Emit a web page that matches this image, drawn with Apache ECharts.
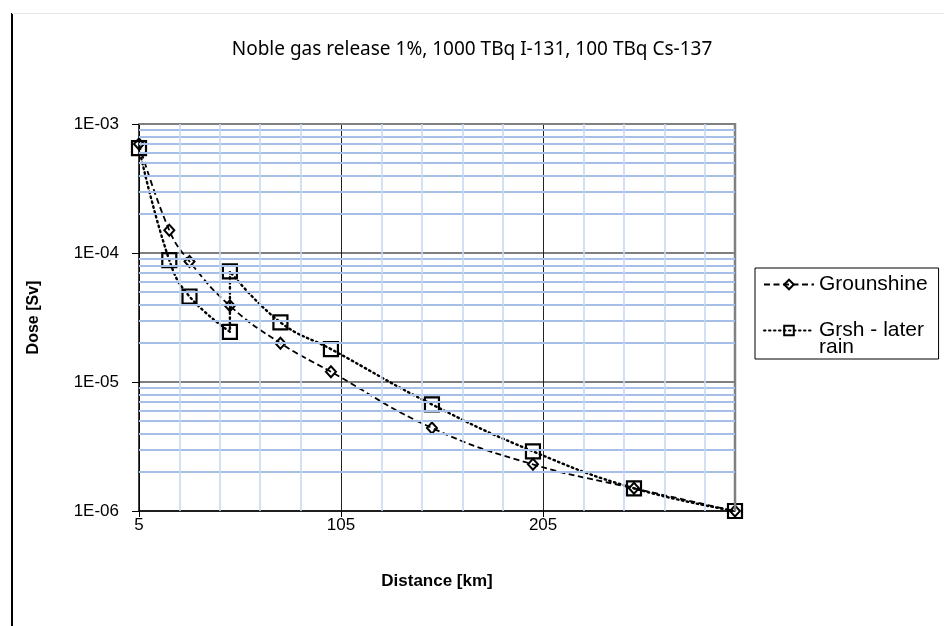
<!DOCTYPE html>
<html>
<head>
<meta charset="utf-8">
<script src="https://cdn.jsdelivr.net/npm/echarts@6/dist/echarts.min.js"></script>
<style>html,body{margin:0;padding:0;background:#fff}#c{width:944px;height:626px}</style>
</head>
<body>
<div id="c"></div>
<script>
// ---- data ----
const distances = [5, 20, 30, 50, 75, 100, 150, 200, 250, 300];
const groundshine = [7.0e-4, 1.5e-4, 8.6e-5, 3.9e-5, 2.0e-5, 1.2e-5, 4.4e-6, 2.3e-6, 1.5e-6, 1.0e-6];
const rainDistances = [5, 20, 30, 50, 50, 75, 100, 150, 200, 250, 300];
const laterRain = [6.5e-4, 8.8e-5, 4.6e-5, 2.45e-5, 7.2e-5, 2.9e-5, 1.8e-5, 6.7e-6, 2.9e-6, 1.5e-6, 1.0e-6];
const seriesNames = ['Grounshine', 'Grsh - later rain'];
const xTickLabels = ['5', '105', '205'];
const yTickLabels = ['1E-06', '1E-05', '1E-04', '1E-03'];
const xRange = [5, 300];
const yRange = [1e-6, 1e-3];
const xMinorGrid = [25, 45, 65, 85, 125, 145, 165, 185, 225, 245, 265, 285];
const yMinorGrid = [2e-6, 3e-6, 4e-6, 5e-6, 6e-6, 7e-6, 8e-6, 9e-6,
                    2e-5, 3e-5, 4e-5, 5e-5, 6e-5, 7e-5, 8e-5, 9e-5,
                    2e-4, 3e-4, 4e-4, 5e-4, 6e-4, 7e-4, 8e-4, 9e-4];

const pair = (xs, ys) => xs.map((x, i) => [x, ys[i]]);
const chart = echarts.init(document.getElementById('c'), null, {renderer: 'canvas'});
const axisFont = {fontFamily: 'Liberation Sans', fontSize: 17, color: '#000'};

const hMinor = yMinorGrid.map(v => [
  {coord: [xRange[0], v], lineStyle: {color: '#a6bfe9', width: 2, type: 'solid'}},
  {coord: [xRange[1], v]}
]);
const vMinor = xMinorGrid.map(v => [
  {coord: [v, yRange[0]], lineStyle: {color: '#c9d8f2', width: 1.6, type: 'solid'}},
  {coord: [v, yRange[1]]}
]);

chart.setOption({
  animation: false,
  backgroundColor: '#fff',
  title: {
    text: 'Noble gas release 1%, 1000 TBq I-131, 100 TBq Cs-137',
    left: 'center', top: 35,
    textStyle: {fontFamily: 'Noto Sans', fontSize: 19, fontWeight: 'normal', color: '#000'}
  },
  graphic: [
    {type: 'line', shape: {x1: 12, y1: 13, x2: 12, y2: 626}, style: {stroke: '#000', lineWidth: 2}},
    {type: 'line', shape: {x1: 12, y1: 13.5, x2: 944, y2: 13.5}, style: {stroke: '#e6e6e6', lineWidth: 1}},
    {type: 'line', shape: {x1: 139, y1: 124, x2: 735, y2: 124}, style: {stroke: '#808080', lineWidth: 2}, z: 5},
    {type: 'line', shape: {x1: 735, y1: 123, x2: 735, y2: 511}, style: {stroke: '#808080', lineWidth: 2.5}, z: 5}
  ],
  grid: {left: 139, top: 124, right: 209, bottom: 115, containLabel: false},
  legend: {
    data: seriesNames,
    orient: 'vertical',
    left: 755, top: 268,
    padding: [6, 11, 1, 8],
    itemGap: 8,
    itemWidth: 50, itemHeight: 12,
    borderColor: '#000', borderWidth: 1, borderRadius: 0,
    backgroundColor: '#fff',
    formatter: n => n === 'Grsh - later rain' ? '\u00a0\nGrsh - later\nrain' : n,
    textStyle: {fontFamily: 'Liberation Sans', fontSize: 21, color: '#000', lineHeight: 17}
  },
  xAxis: {
    type: 'value', min: xRange[0], max: xRange[1], interval: 100,
    name: 'Distance [km]', nameLocation: 'middle', nameGap: 62,
    nameTextStyle: {fontFamily: 'Liberation Sans', fontSize: 17, fontWeight: 'bold', color: '#000'},
    axisLine: {show: true, onZero: false, lineStyle: {color: '#000', width: 1.5}},
    axisTick: {show: true, inside: false, length: 6, lineStyle: {color: '#000'}},
    axisLabel: Object.assign({margin: 6, showMaxLabel: false,
      formatter: v => xTickLabels.includes(String(v)) ? String(v) : ''}, axisFont),
    splitLine: {show: true, lineStyle: {color: '#222', width: 1}}
  },
  yAxis: {
    type: 'log', logBase: 10, min: yRange[0], max: yRange[1],
    name: 'Dose [Sv]', nameLocation: 'middle', nameGap: 97, nameRotate: 90,
    nameTextStyle: {fontFamily: 'Liberation Sans', fontSize: 16, fontWeight: 'bold', color: '#000'},
    axisLine: {show: true, lineStyle: {color: '#000', width: 1.5}},
    axisTick: {show: true, inside: false, length: 7, lineStyle: {color: '#000'}},
    axisLabel: Object.assign({margin: 20,
      formatter: v => yTickLabels[Math.round(Math.log10(v)) + 6] || ''}, axisFont),
    splitLine: {show: true, lineStyle: {color: '#555', width: 1.5}}
  },
  series: [
    {
      name: 'grid-minor', type: 'line', data: [], z: -1, silent: true,
      markLine: {
        silent: true, symbol: 'none', animation: false,
        label: {show: false},
        data: hMinor.concat(vMinor)
      }
    },
    {
      name: seriesNames[0], type: 'line', smooth: 0.45,
      data: pair(distances, groundshine),
      symbol: 'diamond', symbolSize: [10, 11],
      lineStyle: {color: '#000', width: 1.8, type: [6, 3.5]},
      itemStyle: {color: 'rgba(255,255,255,0)', borderColor: '#000', borderWidth: 2},
      z: 3
    },
    {
      name: seriesNames[1], type: 'line', smooth: 0.45,
      data: pair(rainDistances, laterRain),
      symbol: 'rect', symbolSize: 14,
      lineStyle: {color: '#000', width: 2.4, type: [1.5, 3.5], cap: 'round'},
      itemStyle: {color: 'rgba(255,255,255,0)', borderColor: '#000', borderWidth: 2.2},
      z: 4
    }
  ]
});
</script>
</body>
</html>
